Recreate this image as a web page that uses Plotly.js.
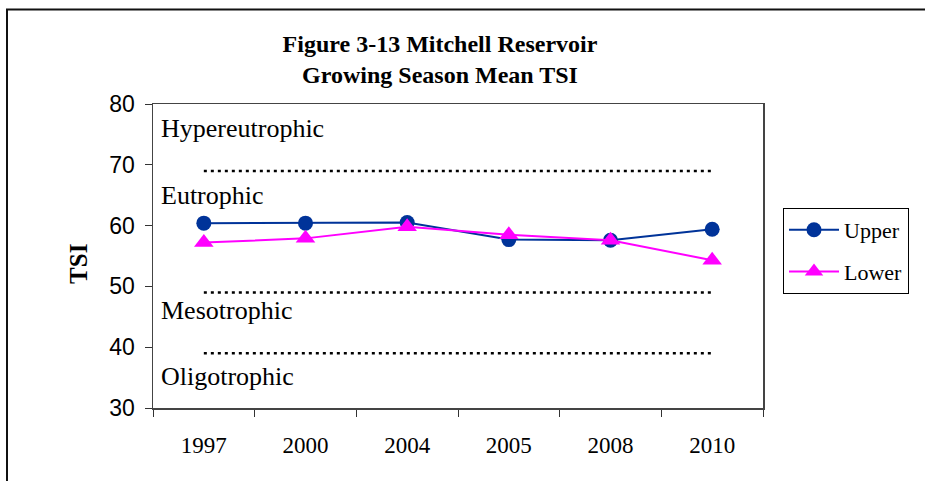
<!DOCTYPE html>
<html>
<head>
<meta charset="utf-8">
<script src="https://cdn.plot.ly/plotly-3.0.1.min.js"></script>
<style>html,body{margin:0;padding:0;background:#fff;}#chart{width:925px;height:481px;}</style>
</head>
<body>
<div id="chart"></div>
<script>
var years = ["1997", "2000", "2004", "2005", "2008", "2010"];
var upper = [60.4, 60.4, 60.5, 57.7, 57.6, 59.4];
var lower = [57.2, 57.9, 59.8, 58.5, 57.6, 54.3];
var hyperLine = [69, 69, 69, 69, 69, 69];
var mesoLine = [49, 49, 49, 49, 49, 49];
var oligoLine = [39, 39, 39, 39, 39, 39];
var zoneNames = ["Hypereutrophic", "Eutrophic", "Mesotrophic", "Oligotrophic"];
var zoneLabelY = [76, 65, 46, 35.2];

var dotted = {color: "#000", width: 2.5, dash: "3px,4px"};
var traces = [
  {x: years, y: hyperLine, mode: "lines", line: dotted, showlegend: false, hoverinfo: "skip"},
  {x: years, y: mesoLine, mode: "lines", line: dotted, showlegend: false, hoverinfo: "skip"},
  {x: years, y: oligoLine, mode: "lines", line: dotted, showlegend: false, hoverinfo: "skip"},
  {x: years, y: upper, name: "Upper", legendgroup: "u", mode: "lines+markers",
   line: {color: "#003399", width: 2}, marker: {color: "#003399", size: 15, symbol: "circle"}},
  {x: years, y: lower, name: "Lower", legendgroup: "l", mode: "lines+markers",
   line: {color: "#FF00FF", width: 2}, marker: {color: "#FF00FF", size: 17, symbol: "triangle-up"}}
];

var annotations = zoneNames.map(function (t, i) {
  return {text: t, xref: "paper", yref: "y", x: 0.010, y: zoneLabelY[i], xanchor: "left", yanchor: "middle",
    showarrow: false, font: {family: "Liberation Serif", size: 26, color: "#000"}};
});
annotations.push({text: "<b>TSI</b>", xref: "paper", yref: "paper", x: (79 - 153) / 610, y: 0.474,
  xanchor: "center", yanchor: "middle", textangle: -90, showarrow: false,
  font: {family: "Liberation Serif", size: 25, color: "#000"}});

var layout = {
  width: 925, height: 481,
  margin: {l: 153, r: 162, t: 104, b: 73},
  paper_bgcolor: "#fff", plot_bgcolor: "#fff",
  title: {text: "<b>Figure 3-13 Mitchell Reservoir<br>Growing Season Mean TSI</b>",
    x: 440 / 925, xref: "container", xanchor: "center", y: 1 - 52 / 481, yref: "container", yanchor: "top",
    font: {family: "Liberation Serif", size: 24, color: "#000"}},
  xaxis: {type: "category", range: [-0.5, 5.5], tickson: "boundaries", ticks: "outside", ticklen: 7,
    tickcolor: "#333", showline: true, linecolor: "#444", linewidth: 1.5, mirror: true, showgrid: false,
    zeroline: false, ticklabelstandoff: 16, tickfont: {family: "Liberation Serif", size: 23, color: "#000"}},
  yaxis: {range: [30, 80], dtick: 10, ticks: "outside", ticklen: 7, tickcolor: "#333",
    showline: true, linecolor: "#444", linewidth: 1.5, mirror: true, showgrid: false, zeroline: false,
    ticklabelstandoff: 5, tickfont: {family: "Liberation Sans", size: 23, color: "#000"}},
  legend: {x: (783 - 153) / 610, y: 1 - (208 - 104) / 304, xanchor: "left", yanchor: "top",
    bordercolor: "#000", borderwidth: 1, bgcolor: "#fff", itemwidth: 50,
    font: {family: "Liberation Serif", size: 22, color: "#000"}, tracegroupgap: 10},
  annotations: annotations,
  shapes: [{type: "rect", xref: "paper", yref: "paper", x0: (7 - 153) / 610, x1: 1.6,
    y0: -0.5, y1: 1 + (104 - 9.5) / 304, line: {color: "#111", width: 2}, fillcolor: "rgba(0,0,0,0)", layer: "below"}],
  showlegend: true
};

Plotly.newPlot("chart", traces, layout, {displayModeBar: false, staticPlot: true});
</script>
</body>
</html>
